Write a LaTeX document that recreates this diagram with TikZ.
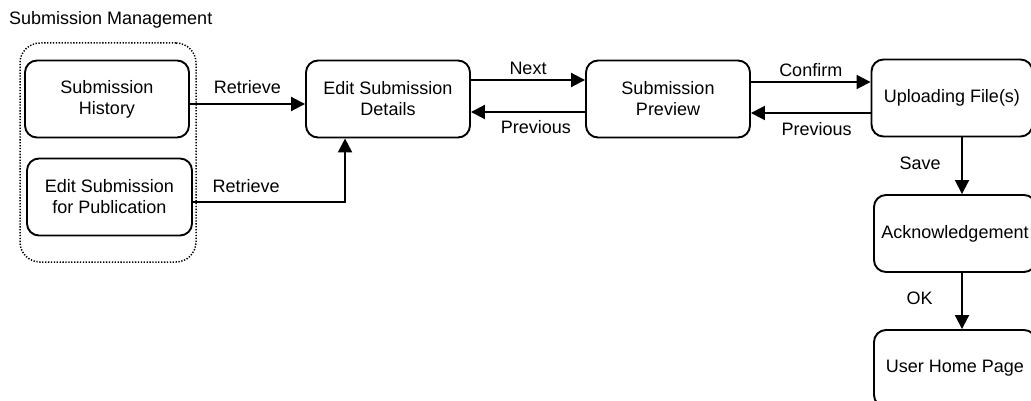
\documentclass[tikz,border=0pt]{standalone}
\usepackage{fontspec}
\setmainfont{Liberation Sans}
\usetikzlibrary{positioning}
\usetikzlibrary{calc}
\usetikzlibrary{arrows.meta}

\begin{document}
\begin{tikzpicture}[x=1pt,y=-1pt,
  font=\fontsize{18}{21}\selectfont,
  state/.style={draw,line width=1.9pt,rounded corners=12pt,align=center,
    minimum width=164pt,minimum height=77pt,inner sep=0pt},
  group/.style={draw,line width=1.5pt,dash pattern=on 1.3pt off 1.6pt,
    rounded corners=20pt,minimum width=176pt,minimum height=219pt},
  arr/.style={line width=1.9pt,-{Triangle[length=14pt,width=14pt]}}]
  \useasboundingbox (0,0) rectangle (1031,401);
  \node[anchor=base west,inner sep=0pt] (title) at (9,25) {Submission Management};
  \node[group] (grp) at (108,152.5) {};
  \node[state] (hist) at (107,99) {Submission\\History};
  \node[state,minimum width=165pt] (pub) at (109.5,197) {Edit Submission\\for Publication};
  \node[state] (edit) at (388,99) {Edit Submission\\Details};
  \node[state] (prev) at (668,99) {Submission\\Preview};
  \node[state,minimum width=161pt] (upl) at (952,98) {Uploading File(s)};
  \node[state,minimum width=162pt] (ack) at (955,233.5) {Acknowledgement};
  \node[state,minimum width=162pt] (home) at (955,368.5) {User Home Page};

  \draw[arr] ([yshift=-5pt]hist.east) -- ([yshift=-5pt]hist.east -| edit.west)
    node[midway,above=6pt] {Retrieve};
  \draw[arr] ([yshift=-5pt]pub.east) -| ([xshift=40pt]edit.south west)
    node[pos=0.175,above=5pt] {Retrieve};
  \draw[arr] ([yshift=19pt]edit.east) -- ([yshift=19pt]edit.east -| prev.west)
    node[midway,above=1pt] {Next};
  \draw[arr] ([yshift=-13pt]edit.east -| prev.west) -- ([yshift=-13pt]edit.east)
    node[pos=0.43,below=4pt] {Previous};
  \draw[arr] ([yshift=17pt]prev.east) -- ([yshift=17pt]prev.east -| upl.west)
    node[midway,above=1pt] {Confirm};
  \draw[arr] ([yshift=-14pt]prev.east -| upl.west) -- ([yshift=-14pt]prev.east)
    node[pos=0.45,below=5pt] {Previous};
  \draw[arr] ([xshift=10pt]upl.south) -- ([xshift=10pt]upl.south |- ack.north)
    node[pos=0.45,left=17pt] {Save};
  \draw[arr] ([xshift=7pt]ack.south) -- ([xshift=7pt]ack.south |- home.north)
    node[pos=0.45,left=25pt] {OK};
\end{tikzpicture}
\end{document}
